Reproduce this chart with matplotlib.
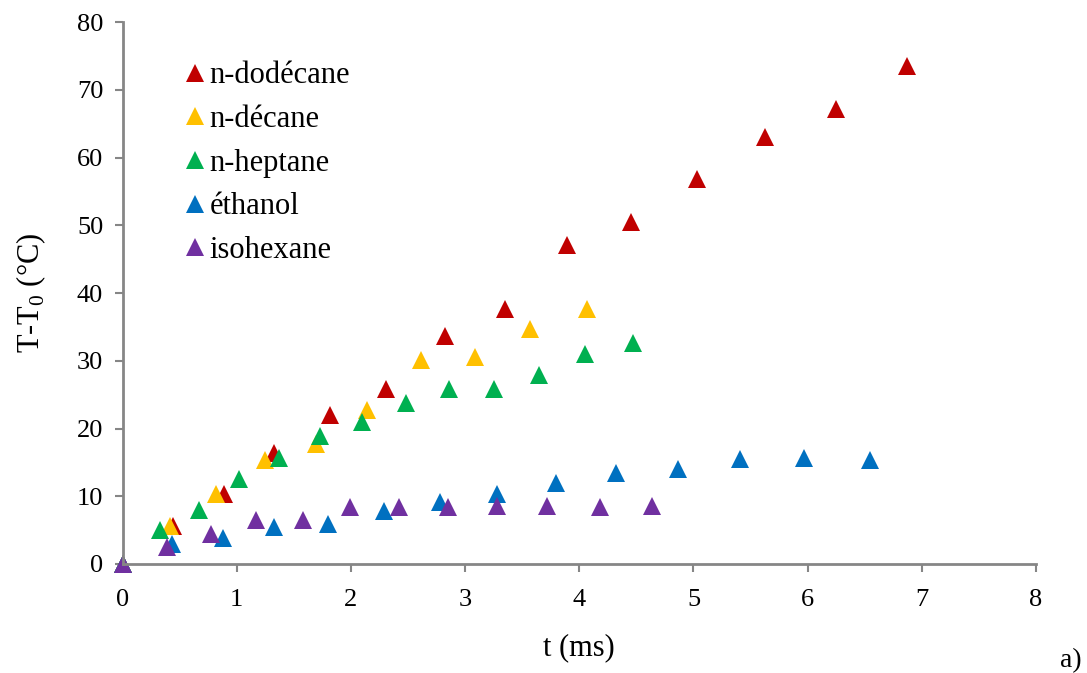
import matplotlib
matplotlib.use('Agg')
import matplotlib.pyplot as plt

plt.rcParams['font.family'] = ['Liberation Serif', 'DejaVu Serif']
plt.rcParams['mathtext.fontset'] = 'custom'
plt.rcParams['mathtext.rm'] = 'Liberation Serif'

# data: t (ms) vs T-T0 (degC)
dodecane_t = [0, 0.44, 0.89, 1.33, 1.82, 2.31, 2.82, 3.35, 3.89, 4.45, 5.03, 5.63, 6.25, 6.87]
dodecane_dT = [0, 5.6, 10.4, 16.4, 22.0, 25.9, 33.6, 37.6, 47.1, 50.5, 56.9, 63.1, 67.2, 73.5]

decane_t = [0, 0.415, 0.82, 1.25, 1.69, 2.14, 2.61, 3.09, 3.57, 4.07]
decane_dT = [0, 5.6, 10.4, 15.35, 17.7, 22.8, 30.1, 30.6, 34.7, 37.6]

heptane_t = [0, 0.33, 0.67, 1.02, 1.37, 1.73, 2.10, 2.48, 2.86, 3.25, 3.65, 4.05, 4.47]
heptane_dT = [0, 5.0, 8.0, 12.5, 15.6, 18.9, 21.0, 23.8, 25.9, 25.8, 27.9, 31.0, 32.7]

ethanol_t = [0, 0.43, 0.88, 1.33, 1.80, 2.29, 2.78, 3.28, 3.80, 4.32, 4.86, 5.41, 5.97, 6.55]
ethanol_dT = [0, 2.95, 3.9, 5.5, 5.9, 7.8, 9.1, 10.4, 11.9, 13.5, 14.0, 15.5, 15.7, 15.4]

isohexane_t = [0, 0.39, 0.77, 1.17, 1.58, 1.99, 2.42, 2.85, 3.28, 3.72, 4.18, 4.64]
isohexane_dT = [0, 2.46, 4.43, 6.5, 6.5, 8.46, 8.46, 8.4, 8.55, 8.56, 8.46, 8.56]

series = [
    ('n-dodécane', dodecane_t, dodecane_dT, '#C00000'),
    ('n-décane', decane_t, decane_dT, '#FFC000'),
    ('n-heptane', heptane_t, heptane_dT, '#00B050'),
    ('éthanol', ethanol_t, ethanol_dT, '#0070C0'),
    ('isohexane', isohexane_t, isohexane_dT, '#7030A0'),
]

fig = plt.figure(figsize=(10.87, 6.73), dpi=100)
ax = fig.add_axes([0.1128, 0.162, 0.8403, 0.805])

for name, t, dT, col in series:
    ax.plot(t, dT, linestyle='none', marker='^', markersize=13,
            color=col, markeredgewidth=0, label=name, clip_on=False)

ax.set_xlim(0, 8)
ax.set_ylim(0, 80)
ax.set_xticks(range(0, 9))
ax.set_yticks(range(0, 81, 10))

for s in ['top', 'right']:
    ax.spines[s].set_visible(False)
for s in ['left', 'bottom']:
    ax.spines[s].set_color('#868686')
    ax.spines[s].set_linewidth(2)
ax.tick_params(direction='out', length=6, width=1.5, color='#868686',
               labelsize=19)
ax.tick_params(axis='y', pad=8)
ax.tick_params(axis='x', pad=12)

ax.set_xlabel('t (ms)', fontsize=22, labelpad=16)
ax.set_ylabel(r'T-T$_0$ (°C)', fontsize=22, labelpad=21)

ax.legend(loc='upper left', bbox_to_anchor=(0.067, 0.928), frameon=False,
          fontsize=22, markerscale=1.0, handlelength=0.7, handletextpad=0.15,
          labelspacing=0.48, numpoints=1, borderaxespad=0, borderpad=0)

fig.text(0.995, 0.0, 'a)', fontsize=20, ha='right', va='bottom')

fig.savefig('out.png', dpi=100)
